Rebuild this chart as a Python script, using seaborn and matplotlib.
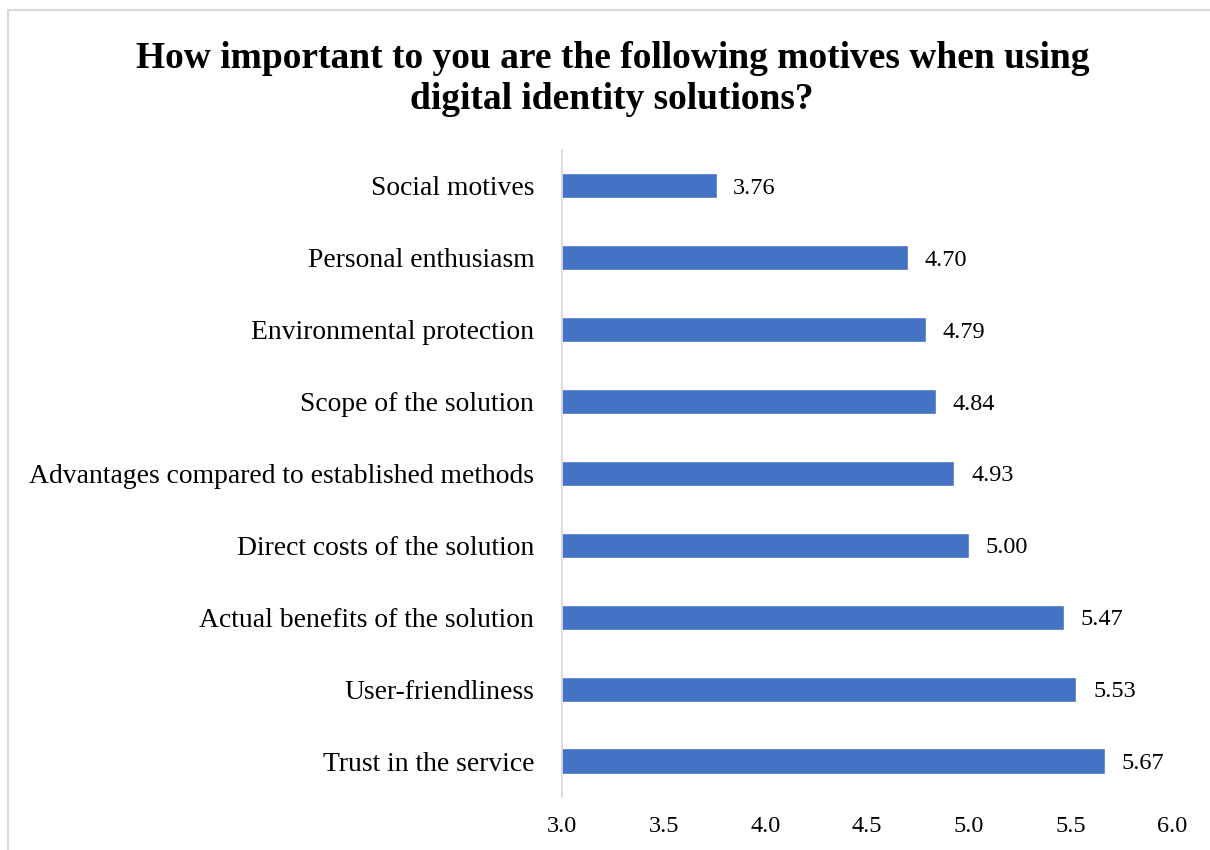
import matplotlib
matplotlib.use("Agg")
import matplotlib.pyplot as plt
import seaborn as sns
import pandas as pd
from matplotlib.patches import Rectangle

categories = [
    "Social motives",
    "Personal enthusiasm",
    "Environmental protection",
    "Scope of the solution",
    "Advantages compared to established methods",
    "Direct costs of the solution",
    "Actual benefits of the solution",
    "User-friendliness",
    "Trust in the service",
]
scores = [3.76, 4.70, 4.79, 4.84, 4.93, 5.00, 5.47, 5.53, 5.67]
x_ticks = [3.0, 3.5, 4.0, 4.5, 5.0, 5.5, 6.0]
title = "How important to you are the following motives when using\ndigital identity solutions?"

sns.set_theme(style="white")
plt.rcParams["font.family"] = ["Liberation Serif", "DejaVu Serif"]
plt.rcParams["text.color"] = "black"
plt.rcParams["xtick.color"] = "black"
plt.rcParams["ytick.color"] = "black"

df = pd.DataFrame({"motive": categories, "score": scores})

fig = plt.figure(figsize=(12.1, 8.5), dpi=100)
ax = fig.add_axes([0.4645, 0.0624, 0.5041, 0.7612])

sns.barplot(data=df, x="score", y="motive", orient="h", color="#4472C4",
            saturation=1, width=0.35, ax=ax)

ax.set_xlim(3.0, 6.0)
ax.set_xticks(x_ticks)
ax.set_xticklabels([f"{t:.1f}" for t in x_ticks], fontsize=17.5)
ax.tick_params(axis="y", labelsize=19.9, length=0, pad=20)
ax.tick_params(axis="x", length=0, pad=14)
ax.set_xlabel("")
ax.set_ylabel("")

for s in ["top", "right", "bottom"]:
    ax.spines[s].set_visible(False)
ax.spines["left"].set_color("#D9D9D9")
ax.spines["left"].set_linewidth(1.3)

for container in ax.containers:
    texts = ax.bar_label(container, labels=[f"{v:.2f}" for v in scores],
                         padding=12, fontsize=17.5)
    for t in texts:
        t.set_va("center_baseline")

fig.text(0.506, 0.907, title, ha="center", va="center", fontsize=27,
         fontweight="bold", linespacing=1.25)

# chart frame
fig.patches.append(Rectangle((8 / 1210, -0.05), 1.2, 1 - 10 / 850 + 0.05,
                             transform=fig.transFigure, fill=False,
                             edgecolor="#D9D9D9", linewidth=1.5))

fig.savefig("out.png", dpi=100)
